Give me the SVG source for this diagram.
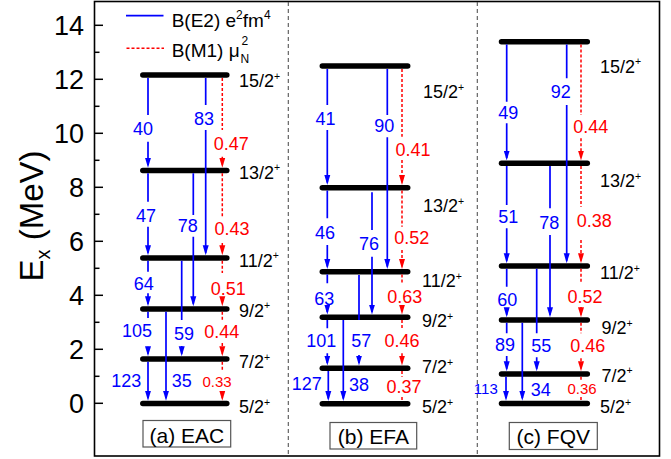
<svg xmlns="http://www.w3.org/2000/svg" width="671" height="459" viewBox="0 0 671 459">
<defs>
<style>
text{font-family:"Liberation Sans",Arial,sans-serif}
.bar{stroke:#000;stroke-width:5.5;stroke-linecap:round;fill:none}
.lv{font-size:18px;fill:#000}
.sp{font-size:10.5px}
.e2{stroke:#0000ff;stroke-width:1.7;fill:none;marker-end:url(#ab)}
.m1{stroke:#ff0000;stroke-width:1.5;stroke-dasharray:3 2;fill:none;marker-end:url(#ar)}
.m1n{stroke:#ff0000;stroke-width:1.5;stroke-dasharray:3 2;fill:none}
.bl{font-size:18px;fill:#0000ff;text-anchor:middle}
.rd{font-size:18px;fill:#ff0000;text-anchor:middle}
.sm{font-size:15px}
.tk{stroke:#000;stroke-width:1.5}
.tl{font-size:27px;text-anchor:end;fill:#000}
.box{fill:#fff;stroke:#555;stroke-width:1.2}
.bt{font-size:21px;text-anchor:middle;fill:#000}
.sep{stroke:#555;stroke-width:1.1;stroke-dasharray:4 3}
</style>
<marker id="ab" markerUnits="userSpaceOnUse" markerWidth="10" markerHeight="7" refX="7.5" refY="3.5" orient="auto"><path d="M0,0.5 L10,3.5 L0,6.5 Z" fill="#0000ff" stroke="none"/></marker>
<marker id="ar" markerUnits="userSpaceOnUse" markerWidth="10" markerHeight="7" refX="7.5" refY="3.5" orient="auto"><path d="M0,0.5 L10,3.5 L0,6.5 Z" fill="#ff0000" stroke="none"/></marker>
</defs>
<rect width="671" height="459" fill="#fff"/>

<g id="frame">
<rect x="94.5" y="1.5" width="565" height="454.5" fill="none" stroke="#000" stroke-width="1.6"/>
<line class="sep" x1="288.3" y1="2" x2="288.3" y2="455"/>
<line class="sep" x1="477.3" y1="2" x2="477.3" y2="455"/>
</g>

<g id="y-axis">
<line class="tk" x1="94.5" y1="403.3" x2="103" y2="403.3"/>
<line class="tk" x1="94.5" y1="376.3" x2="99.5" y2="376.3"/>
<line class="tk" x1="94.5" y1="349.3" x2="103" y2="349.3"/>
<line class="tk" x1="94.5" y1="322.3" x2="99.5" y2="322.3"/>
<line class="tk" x1="94.5" y1="295.3" x2="103" y2="295.3"/>
<line class="tk" x1="94.5" y1="268.3" x2="99.5" y2="268.3"/>
<line class="tk" x1="94.5" y1="241.3" x2="103" y2="241.3"/>
<line class="tk" x1="94.5" y1="214.3" x2="99.5" y2="214.3"/>
<line class="tk" x1="94.5" y1="187.3" x2="103" y2="187.3"/>
<line class="tk" x1="94.5" y1="160.3" x2="99.5" y2="160.3"/>
<line class="tk" x1="94.5" y1="133.3" x2="103" y2="133.3"/>
<line class="tk" x1="94.5" y1="106.3" x2="99.5" y2="106.3"/>
<line class="tk" x1="94.5" y1="79.3" x2="103" y2="79.3"/>
<line class="tk" x1="94.5" y1="52.3" x2="99.5" y2="52.3"/>
<line class="tk" x1="94.5" y1="25.3" x2="103" y2="25.3"/>
<text class="tl" x="84" y="413">0</text>
<text class="tl" x="84" y="359">2</text>
<text class="tl" x="84" y="305">4</text>
<text class="tl" x="84" y="251">6</text>
<text class="tl" x="84" y="197">8</text>
<text class="tl" x="84" y="143">10</text>
<text class="tl" x="84" y="89">12</text>
<text class="tl" x="84" y="35">14</text>
<text transform="translate(43,216) rotate(-90)" text-anchor="middle" font-size="33">E<tspan font-size="20" dy="7">x</tspan><tspan dy="-7"> (MeV)</tspan></text>
</g>

<g id="legend">
<line x1="126" y1="15.7" x2="163.5" y2="15.7" stroke="#0000ff" stroke-width="1.7"/>
<text x="171.7" y="26.7" font-size="19">B(E2) e<tspan font-size="12" dy="-8">2</tspan><tspan dy="8">fm</tspan><tspan font-size="12" dy="-8">4</tspan></text>
<line x1="126.5" y1="48.3" x2="164" y2="48.3" stroke="#ff0000" stroke-width="1.5" stroke-dasharray="3 2"/>
<text x="171.7" y="57.3" font-size="19">B(M1) μ</text>
<text x="240.5" y="63.3" font-size="12">N</text>
<text x="241.5" y="45" font-size="12">2</text>
</g>

<g id="panel-a">
<g id="a-15-2"><line class="bar" x1="142.8" y1="75" x2="226.8" y2="75"/><text class="lv" x="239" y="87.3">15/2<tspan class="sp" dy="-7.5">+</tspan></text></g>
<g id="a-13-2"><line class="bar" x1="142.8" y1="170.5" x2="226.8" y2="170.5"/><text class="lv" x="239" y="178.5">13/2<tspan class="sp" dy="-7.5">+</tspan></text></g>
<g id="a-11-2"><line class="bar" x1="142.8" y1="258" x2="226.8" y2="258"/><text class="lv" x="239" y="266.7">11/2<tspan class="sp" dy="-7.5">+</tspan></text></g>
<g id="a-9-2"><line class="bar" x1="142.8" y1="309" x2="226.8" y2="309"/><text class="lv" x="239" y="316.7">9/2<tspan class="sp" dy="-7.5">+</tspan></text></g>
<g id="a-7-2"><line class="bar" x1="142.8" y1="359" x2="226.8" y2="359"/><text class="lv" x="239" y="368">7/2<tspan class="sp" dy="-7.5">+</tspan></text></g>
<g id="a-5-2"><line class="bar" x1="142.8" y1="403.5" x2="226.8" y2="403.5"/><text class="lv" x="239" y="413">5/2<tspan class="sp" dy="-7.5">+</tspan></text></g>
<g id="a-box"><rect class="box" x="143" y="420.5" width="87.7" height="26.5"/><text class="bt" x="186.9" y="442.7">(a) EAC</text></g>
</g>

<g id="panel-b">
<g id="b-15-2"><line class="bar" x1="322.3" y1="66" x2="407.7" y2="66"/><text class="lv" x="423" y="98.3">15/2<tspan class="sp" dy="-7.5">+</tspan></text></g>
<g id="b-13-2"><line class="bar" x1="322.3" y1="187.7" x2="407.7" y2="187.7"/><text class="lv" x="423" y="212">13/2<tspan class="sp" dy="-7.5">+</tspan></text></g>
<g id="b-11-2"><line class="bar" x1="322.3" y1="271.7" x2="407.7" y2="271.7"/><text class="lv" x="422" y="287">11/2<tspan class="sp" dy="-7.5">+</tspan></text></g>
<g id="b-9-2"><line class="bar" x1="322.3" y1="317.3" x2="407.7" y2="317.3"/><text class="lv" x="422" y="327">9/2<tspan class="sp" dy="-7.5">+</tspan></text></g>
<g id="b-7-2"><line class="bar" x1="322.3" y1="368.3" x2="407.7" y2="368.3"/><text class="lv" x="422" y="373">7/2<tspan class="sp" dy="-7.5">+</tspan></text></g>
<g id="b-5-2"><line class="bar" x1="322.3" y1="403.8" x2="407.7" y2="403.8"/><text class="lv" x="422" y="413">5/2<tspan class="sp" dy="-7.5">+</tspan></text></g>
<g id="b-box"><rect class="box" x="330" y="422.5" width="86.7" height="26.5"/><text class="bt" x="373.3" y="444">(b) EFA</text></g>
</g>

<g id="panel-c">
<g id="c-15-2"><line class="bar" x1="501.5" y1="41.7" x2="587.3" y2="41.7"/><text class="lv" x="600" y="72.7">15/2<tspan class="sp" dy="-7.5">+</tspan></text></g>
<g id="c-13-2"><line class="bar" x1="501.5" y1="163.3" x2="587.3" y2="163.3"/><text class="lv" x="600" y="187">13/2<tspan class="sp" dy="-7.5">+</tspan></text></g>
<g id="c-11-2"><line class="bar" x1="501.5" y1="266" x2="587.3" y2="266"/><text class="lv" x="600" y="279">11/2<tspan class="sp" dy="-7.5">+</tspan></text></g>
<g id="c-9-2"><line class="bar" x1="501.5" y1="320" x2="587.3" y2="320"/><text class="lv" x="601.5" y="334">9/2<tspan class="sp" dy="-7.5">+</tspan></text></g>
<g id="c-7-2"><line class="bar" x1="501.5" y1="374" x2="587.3" y2="374"/><text class="lv" x="601.5" y="381.5">7/2<tspan class="sp" dy="-7.5">+</tspan></text></g>
<g id="c-5-2"><line class="bar" x1="501.5" y1="403.5" x2="587.3" y2="403.5"/><text class="lv" x="600" y="413">5/2<tspan class="sp" dy="-7.5">+</tspan></text></g>
<g id="c-box"><rect class="box" x="509.3" y="422.5" width="88" height="27"/><text class="bt" x="553.3" y="444">(c) FQV</text></g>
</g>

<g id="connectors">
<path class="e2" d="M148,78 V115 M148,141.7 V165.2"/>
<path class="e2" d="M148,173.3 V201.7 M148,226.7 V252.7"/>
<path class="e2" d="M148,260.8 V271.7 M148,293.3 V303.7"/>
<path class="e2" d="M148,311.8 V318 M148,346.7 V353.7"/>
<path class="e2" d="M148,361.8 V398.2"/>
<path class="e2" d="M205.7,78 V105 M205.7,130 V252.7"/>
<path class="e2" d="M193.3,173.3 V215 M193.3,236.7 V303.7"/>
<path class="e2" d="M181.7,260.8 V320 M181.7,346 V353.7"/>
<path class="e2" d="M166,311.8 V398.2"/>
<path class="m1" d="M222.3,78 V130 M222.3,156.7 V165.2"/>
<path class="m1" d="M222.3,173.3 V216.7 M222.3,243 V252.7"/>
<path class="m1" d="M222.3,260.8 V273 M222.3,299 V303.7"/>
<path class="m1" d="M222.3,311.8 V320 M222.3,343 V353.7"/>
<path class="m1" d="M222.3,361.8 V370 M222.3,391.7 V398.2"/>
<path class="e2" d="M327.3,69 V105 M327.3,130 V182.4"/>
<path class="e2" d="M327.3,190.5 V218.3 M327.3,245 V266.4"/>
<path class="e2" d="M327.3,274.5 V283.3 M327.3,308 V312"/>
<path class="e2" d="M327.3,320 V328.3 M327.3,353.3 V363"/>
<path class="e2" d="M328.3,371 V398.5"/>
<path class="e2" d="M387.3,69 V115 M387.3,137.3 V266.4"/>
<path class="e2" d="M372,192.3 V230 M372,256.7 V312"/>
<path class="e2" d="M359,275 V320 M359,355 V363"/>
<path class="e2" d="M343.3,320 V398.5"/>
<path class="m1" d="M402,69 V136.7 M402,160 V182.4"/>
<path class="m1" d="M402,190.5 V226.7 M402,250 V266.4"/>
<path class="m1" d="M402,274.5 V283.3 M402,307 V312"/>
<path class="m1" d="M402,320 V328.3 M402,353.3 V363"/>
<path class="m1n" d="M402,371 V376.7 M402,397 V401"/>
<path class="e2" d="M506.7,44.5 V101.7 M506.7,123.3 V158"/>
<path class="e2" d="M506.7,166 V205 M506.7,228.3 V260.7"/>
<path class="e2" d="M506.7,268.8 V286.7 M506.7,309 V314.7"/>
<path class="e2" d="M506.7,322.8 V333.3 M506.7,356 V368.7"/>
<path class="e2" d="M506,376.8 V398.2"/>
<path class="e2" d="M566.7,44.5 V78.3 M566.7,105 V260.7"/>
<path class="e2" d="M550,166 V208.3 M550,235 V314.7"/>
<path class="e2" d="M536.7,268.8 V333.3 M536.7,357.3 V368.7"/>
<path class="e2" d="M522.3,322.8 V398.2"/>
<path class="m1" d="M581,44.5 V115 M581,138.3 V158"/>
<path class="m1" d="M581,166 V206.7 M581,240 V260.7"/>
<path class="m1" d="M581,268.8 V283.3 M581,307 V314.7"/>
<path class="m1" d="M581,322.8 V333.3 M581,358.3 V368.7"/>
<path class="m1n" d="M581,376.8 V380 M581,397 V401"/>
</g>

<g id="transition-labels">
<text class="bl" x="143" y="135">40</text>
<text class="bl" x="146" y="221.7">47</text>
<text class="bl" x="143.7" y="290">64</text>
<text class="bl" x="137" y="336.7">105</text>
<text class="bl" x="126.3" y="386.7">123</text>
<text class="bl" x="204" y="125">83</text>
<text class="bl" x="187.8" y="231.7">78</text>
<text class="bl" x="184" y="340">59</text>
<text class="bl" x="181.7" y="386.7">35</text>
<text class="rd" x="231.3" y="150">0.47</text>
<text class="rd" x="232" y="235">0.43</text>
<text class="rd" x="228.3" y="295">0.51</text>
<text class="rd" x="221.7" y="338.3">0.44</text>
<text class="rd sm" x="217" y="386.7">0.33</text>
<text class="bl" x="325.5" y="125">41</text>
<text class="bl" x="325" y="239.3">46</text>
<text class="bl" x="324.3" y="305">63</text>
<text class="bl" x="321.3" y="346.7">101</text>
<text class="bl" x="306.7" y="390">127</text>
<text class="bl" x="384.3" y="131.7">90</text>
<text class="bl" x="369" y="250">76</text>
<text class="bl" x="361.3" y="346.7">57</text>
<text class="bl" x="359" y="390.7">38</text>
<text class="rd" x="413" y="156">0.41</text>
<text class="rd" x="411.7" y="244">0.52</text>
<text class="rd" x="404.7" y="303.3">0.63</text>
<text class="rd" x="402" y="346.7">0.46</text>
<text class="rd" x="404" y="393.3">0.37</text>
<text class="bl" x="508.3" y="119.3">49</text>
<text class="bl" x="508.3" y="223.3">51</text>
<text class="bl" x="507.3" y="306">60</text>
<text class="bl" x="505" y="350.7">89</text>
<text class="bl sm" x="485.8" y="394">113</text>
<text class="bl" x="560.7" y="98.3">92</text>
<text class="bl" x="549.3" y="229.3">78</text>
<text class="bl" x="541.2" y="351.7">55</text>
<text class="bl" x="540.7" y="395.7">34</text>
<text class="rd" x="590.8" y="132.7">0.44</text>
<text class="rd" x="594.2" y="226.7">0.38</text>
<text class="rd" x="585" y="302.7">0.52</text>
<text class="rd" x="587.8" y="351.7">0.46</text>
<text class="rd sm" x="582" y="394">0.36</text>
</g>
</svg>
